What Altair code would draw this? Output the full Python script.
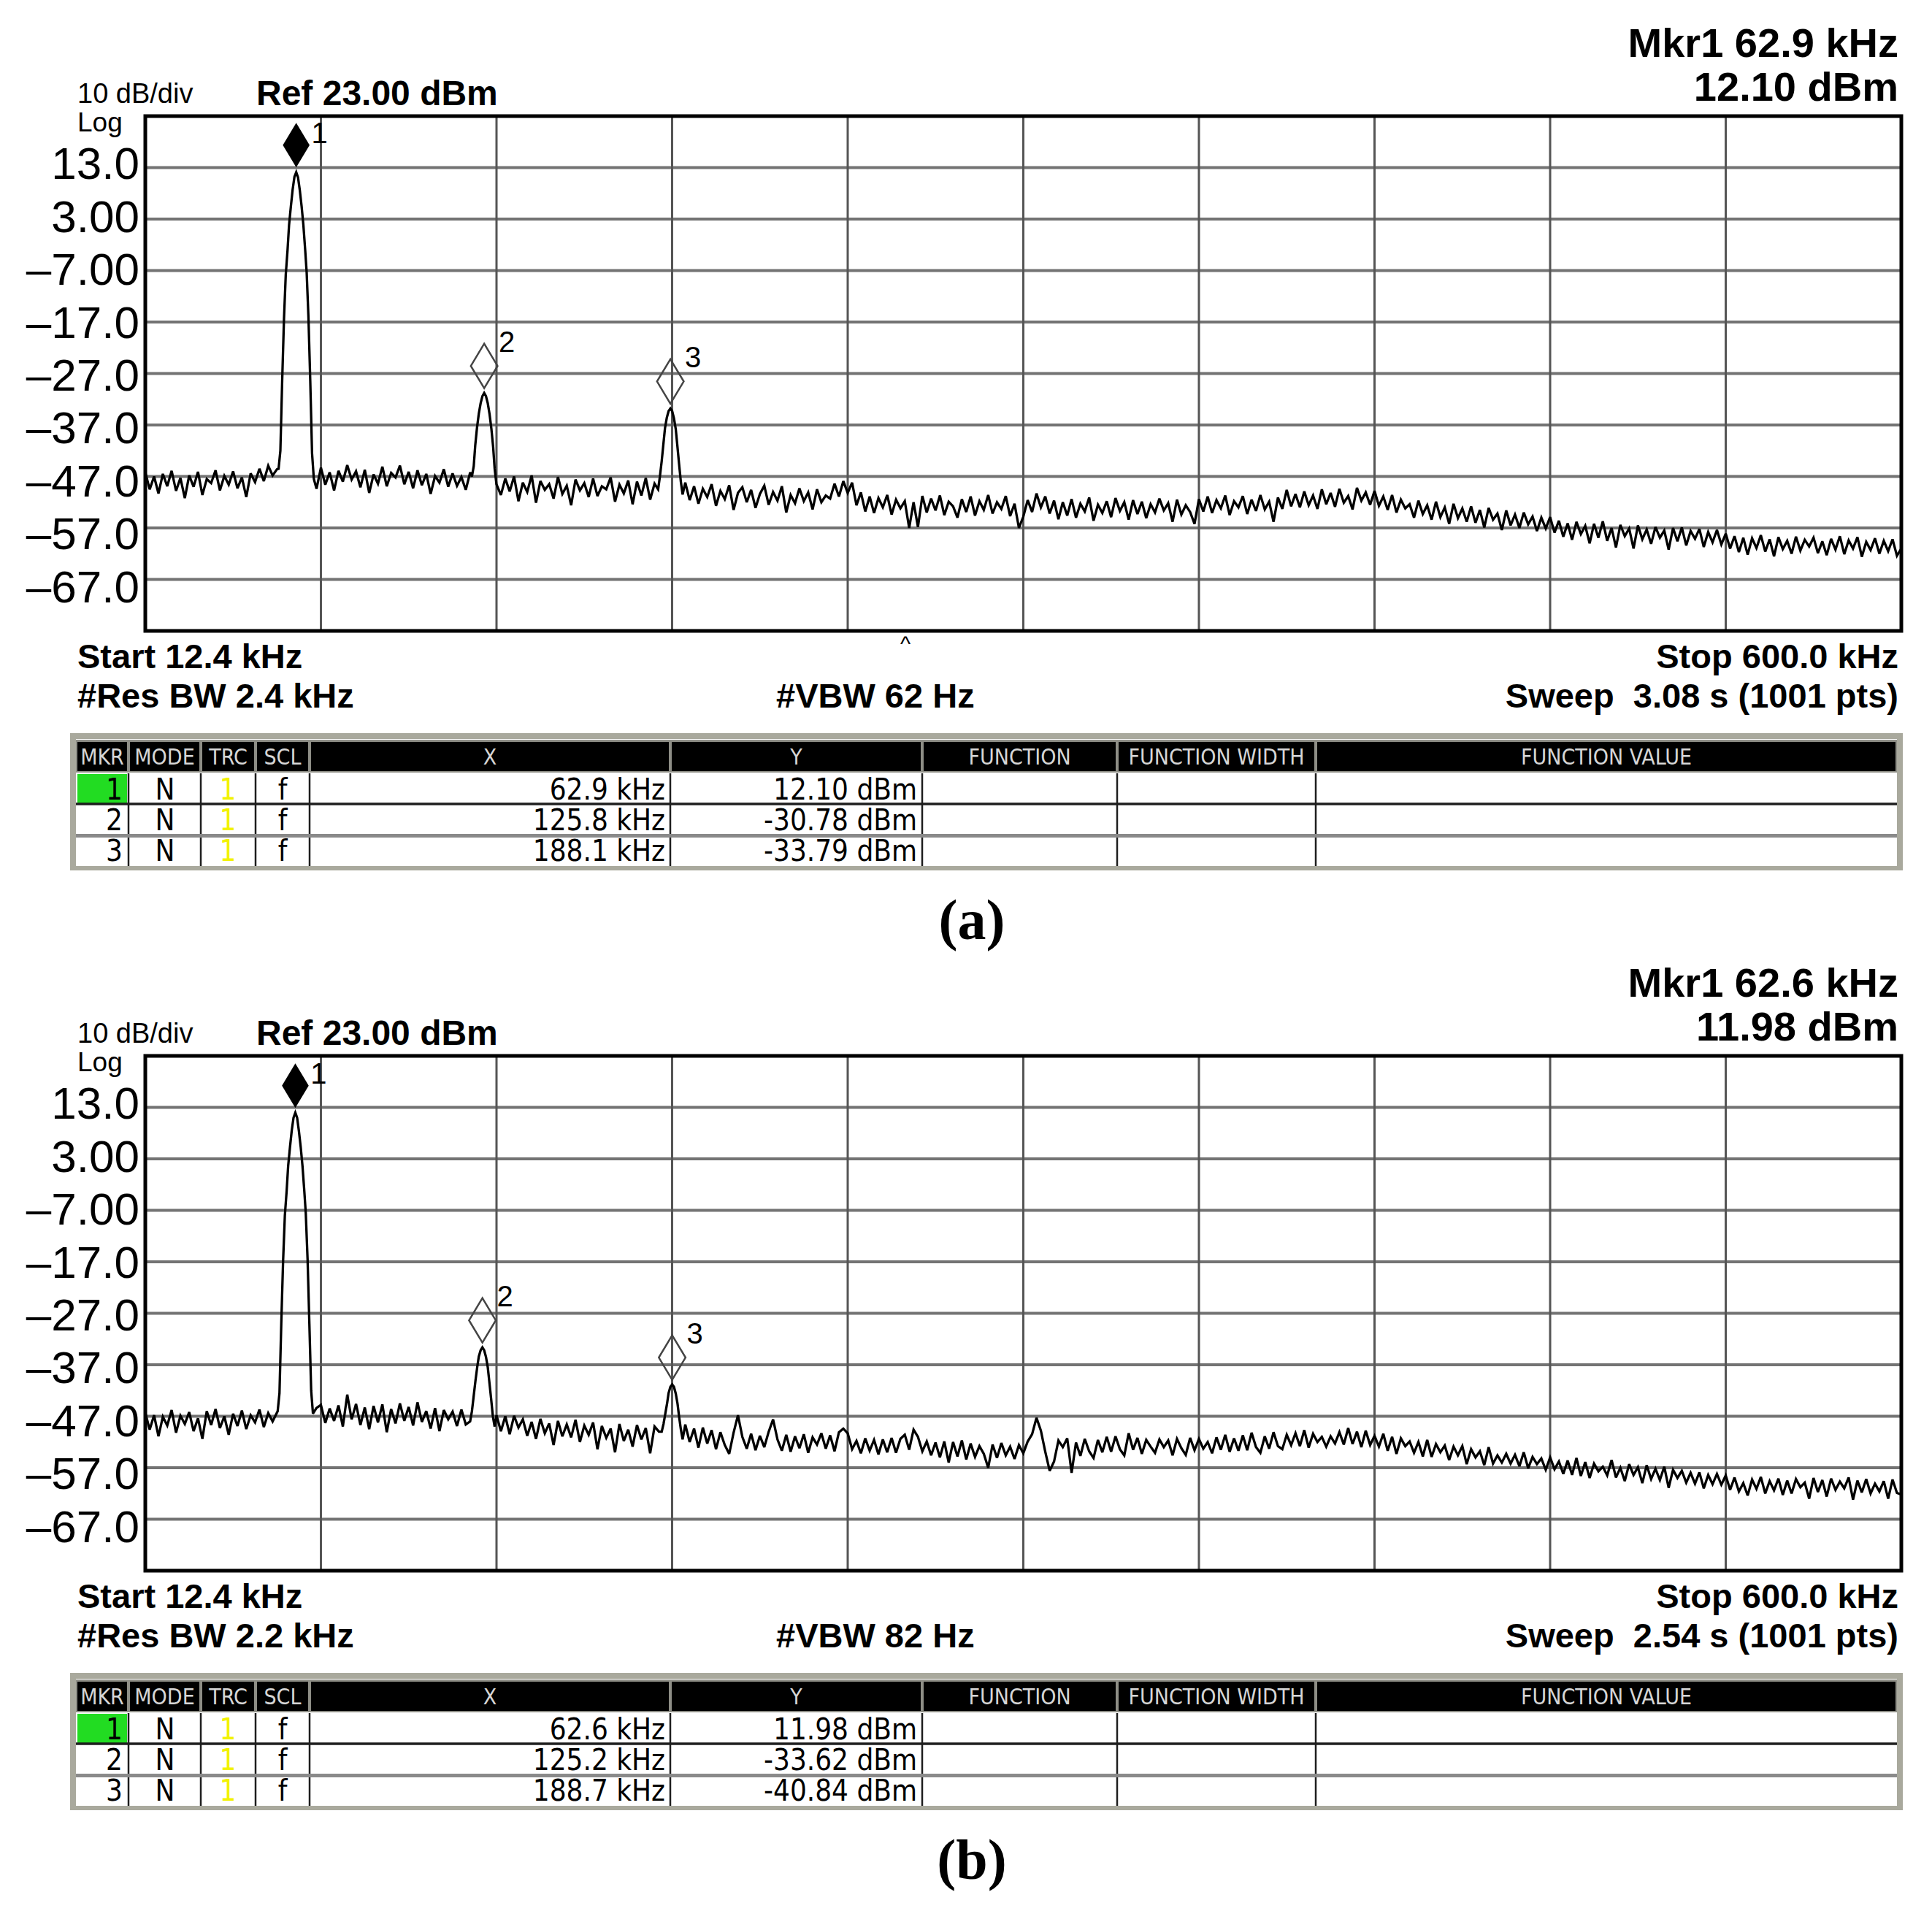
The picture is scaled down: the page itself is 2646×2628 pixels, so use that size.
import altair as alt
import numpy as np
import pandas as pd

# ---------------------------------------------------------------- data
START_KHZ = 12.4
STOP_KHZ = 600.0
REF_DBM = 23.0
DB_PER_DIV = 10.0
N_DIV = 10
SWEEP_PTS = 1001
N_TRACE = 401  # sweep points (every ~2.5th instrument point)

Y_TICKS = [13, 3, -7, -17, -27, -37, -47, -57, -67]
Y_TICK_LABELS = ["13.0", "3.00", "\u20137.00", "\u201317.0", "\u201327.0",
                 "\u201337.0", "\u201347.0", "\u201357.0", "\u201367.0"]

TABLE_HEADERS = ["MKR", "MODE", "TRC", "SCL", "X", "Y",
                 "FUNCTION", "FUNCTION WIDTH", "FUNCTION VALUE"]
MKR_MODES = ["N", "N", "N"]
MKR_TRACES = ["1", "1", "1"]
MKR_SCALES = ["f", "f", "f"]

# panel (a)
MKR_F_A = [62.9, 125.8, 188.1]
MKR_DB_A = [12.10, -30.78, -33.79]
RBW_A, VBW_A, SWEEP_A = "2.4 kHz", "62 Hz", "3.08 s"
# panel (b)
MKR_F_B = [62.6, 125.2, 188.7]
MKR_DB_B = [11.98, -33.62, -40.84]
RBW_B, VBW_B, SWEEP_B = "2.2 kHz", "82 Hz", "2.54 s"

NOISE_A = [
    # 12.4 - 71.2 kHz
    -46.2, -49.5, -47.0, -50.3, -46.5, -48.9, -45.9, -49.8, -47.3, -51.2,
    -46.8, -49.0, -46.1, -50.6, -47.5, -48.3, -45.8, -49.7, -46.9, -48.6,
    -46.0, -49.3, -47.2, -51.0, -46.4, -48.1, -45.5, -47.9, -44.9, -46.8,
    -45.6, -46.0, -46.0, -46.0, -46.0, -46.0, -46.0, -46.0, -46.0, -49.4,
    # 71.2 - 129.9 kHz
    -45.3, -48.6, -46.2, -49.7, -45.9, -48.0, -44.8, -47.6, -46.0, -49.1,
    -45.7, -50.2, -46.6, -48.4, -45.1, -48.9, -46.3, -47.2, -44.9, -48.5,
    -46.1, -49.3, -45.8, -48.7, -46.5, -50.4, -46.9, -48.2, -45.6, -49.0,
    -46.4, -48.8, -47.1, -49.6, -46.2, -47.0, -47.0, -47.0, -47.0, -47.0,
    # 129.9 - 188.7 kHz
    -46.9, -50.6, -47.4, -49.9, -47.0, -51.8, -48.2, -50.0, -46.8, -52.1,
    -47.9, -49.6, -48.5, -51.3, -47.1, -50.4, -48.8, -52.6, -47.6, -49.7,
    -48.3, -51.0, -47.4, -50.8, -48.9, -49.5, -47.2, -51.9, -48.6, -50.3,
    -47.8, -52.4, -48.0, -50.7, -47.3, -51.5, -48.4, -49.0, -49.0, -49.0,
    # 188.7 - 247.4 kHz
    -50.0, -50.0, -50.0, -48.2, -51.6, -48.9, -52.3, -49.4, -51.0, -48.5,
    -52.7, -49.8, -51.4, -48.7, -53.5, -50.2, -49.1, -52.0, -49.6, -53.1,
    -50.4, -48.8, -52.5, -50.0, -51.7, -48.9, -54.0, -50.6, -52.2, -49.3,
    -51.8, -50.1, -53.4, -49.5, -52.0, -50.7, -51.3, -48.4, -50.9, -47.9,
    # 247.4 - 306.2 kHz
    -50.2, -48.2, -52.6, -50.1, -53.8, -50.9, -54.1, -51.2, -53.0, -50.6,
    -54.4, -51.5, -53.2, -51.8, -57.0, -52.0, -56.8, -50.8, -54.0, -51.3,
    -53.6, -50.7, -54.5, -51.9, -52.8, -55.0, -51.4, -53.9, -50.9, -54.6,
    -51.8, -53.5, -50.6, -54.2, -52.0, -53.3, -50.8, -54.7, -52.3, -57.0,
    # 306.2 - 364.9 kHz
    -54.8, -51.6, -53.9, -50.3, -53.0, -50.9, -54.2, -51.7, -55.3, -52.0,
    -54.6, -51.4, -55.0, -52.3, -53.8, -51.1, -55.6, -52.5, -54.1, -51.8,
    -54.9, -51.2, -53.7, -52.0, -55.4, -51.6, -54.3, -51.9, -55.1, -52.4,
    -54.0, -51.3, -53.6, -52.2, -55.8, -51.5, -54.4, -52.6, -53.9, -56.2,
    # 364.9 - 423.7 kHz
    -51.4, -53.8, -50.9, -54.1, -51.6, -53.2, -50.7, -54.5, -51.8, -53.0,
    -50.8, -54.3, -51.5, -53.7, -50.6, -53.4, -51.9, -55.8, -51.1, -53.3,
    -49.6, -52.8, -50.4, -53.0, -49.9, -52.6, -50.7, -53.3, -49.5, -52.4,
    -50.2, -52.9, -49.4, -52.1, -50.8, -53.4, -49.2, -51.7, -50.1, -52.5,
    # 423.7 - 482.5 kHz
    -49.8, -52.7, -50.9, -53.5, -50.6, -54.0, -51.5, -53.2, -52.4, -55.0,
    -51.7, -54.3, -52.6, -55.4, -51.9, -54.9, -53.0, -56.2, -52.3, -55.1,
    -53.2, -55.8, -52.8, -56.0, -53.5, -56.9, -53.1, -55.4, -54.2, -57.4,
    -53.6, -56.5, -54.4, -57.0, -54.0, -56.3, -54.8, -57.6, -55.0, -57.1,
    # 482.5 - 541.2 kHz
    -54.9, -57.9, -55.6, -58.7, -56.1, -59.3, -55.8, -58.2, -56.6, -60.0,
    -56.2, -58.9, -55.7, -59.5, -57.0, -60.8, -56.4, -58.6, -57.1, -61.0,
    -56.5, -59.2, -57.3, -60.1, -56.8, -58.9, -57.5, -61.2, -57.0, -59.6,
    -56.9, -60.4, -57.6, -59.1, -57.2, -60.7, -57.8, -59.8, -57.4, -60.2,
    # 541.2 - 600.0 kHz
    -58.1, -61.0, -58.6, -61.7, -58.9, -62.2, -59.0, -60.9, -58.4, -61.6,
    -59.2, -62.5, -58.8, -61.1, -59.5, -62.0, -58.7, -61.4, -59.3, -60.6,
    -58.9, -61.9, -59.6, -62.3, -59.1, -61.2, -58.6, -62.1, -59.4, -61.0,
    -58.8, -62.6, -59.7, -61.3, -59.0, -62.0, -59.5, -61.5, -59.2, -62.4,
    -61.0,
]

NOISE_B = [
    # 12.4 - 71.2 kHz
    -46.3, -49.6, -46.8, -50.9, -47.1, -48.8, -45.8, -50.2, -46.9, -48.5,
    -46.2, -49.9, -47.4, -51.4, -46.0, -48.7, -45.6, -49.3, -47.0, -50.6,
    -46.5, -48.9, -45.9, -49.5, -46.8, -48.2, -45.7, -49.1, -46.4, -48.0,
    -46.1, -46.0, -46.0, -46.0, -46.0, -46.0, -46.0, -46.0, -46.0, -45.4,
    # 71.2 - 129.9 kHz
    -44.8, -48.3, -45.5, -47.9, -44.9, -49.0, -42.8, -47.6, -44.6, -48.7,
    -45.3, -49.5, -45.0, -48.2, -44.7, -50.1, -45.6, -48.4, -44.5, -47.9,
    -45.2, -48.8, -44.3, -48.1, -46.0, -49.4, -45.4, -49.9, -45.8, -47.6,
    -46.1, -48.9, -45.7, -48.6, -46.3, -47.0, -47.0, -47.0, -47.0, -47.0,
    # 129.9 - 188.7 kHz
    -46.8, -49.9, -47.0, -50.5, -46.9, -49.2, -47.6, -50.8, -48.1, -51.4,
    -47.5, -50.3, -48.4, -52.6, -47.9, -50.9, -48.6, -51.1, -47.7, -52.0,
    -48.8, -50.6, -48.2, -53.4, -48.9, -51.2, -49.4, -54.0, -48.5, -51.8,
    -49.6, -52.9, -48.7, -51.5, -49.3, -54.2, -49.0, -50.0, -50.0, -50.0,
    # 188.7 - 247.4 kHz
    -50.0, -50.0, -50.0, -48.6, -52.0, -49.4, -53.1, -49.2, -52.3, -49.7,
    -53.4, -50.1, -52.6, -54.3, -50.2, -46.8, -51.0, -53.3, -50.4, -53.6,
    -50.8, -53.0, -50.0, -47.6, -51.5, -53.7, -50.6, -53.9, -50.9, -53.2,
    -50.5, -54.1, -51.1, -52.5, -50.3, -53.3, -50.7, -53.8, -50.1, -49.4,
    # 247.4 - 306.2 kHz
    -50.3, -53.4, -51.8, -54.2, -51.3, -53.7, -51.6, -54.4, -51.5, -54.0,
    -51.2, -54.1, -51.4, -50.6, -53.5, -49.6, -51.0, -53.8, -51.9, -54.6,
    -52.1, -55.0, -51.9, -56.0, -52.0, -54.8, -51.7, -55.4, -52.3, -54.9,
    -52.8, -54.3, -57.0, -52.5, -55.1, -52.2, -54.6, -52.9, -55.3, -52.6,
    # 306.2 - 364.9 kHz
    -54.2, -51.9, -50.5, -47.3, -49.8, -53.9, -57.6, -55.8, -51.7, -53.0,
    -51.3, -58.0, -52.1, -54.7, -51.4, -53.8, -55.1, -51.6, -54.0, -51.0,
    -53.9, -50.9, -53.4, -54.6, -50.3, -53.5, -51.2, -54.3, -51.6, -52.9,
    -54.1, -51.5, -53.0, -51.7, -54.6, -51.4, -53.2, -54.5, -51.2, -53.6,
    # 364.9 - 423.7 kHz
    -51.4, -53.3, -52.0, -54.2, -51.1, -53.5, -50.6, -53.9, -51.3, -53.7,
    -50.7, -53.6, -50.2, -53.0, -54.1, -50.9, -53.3, -50.1, -52.8, -53.4,
    -50.6, -52.6, -50.3, -52.8, -49.7, -53.1, -50.4, -52.0, -51.0, -52.9,
    -50.9, -52.3, -50.1, -52.5, -49.3, -52.4, -50.0, -53.0, -49.8, -52.6,
    # 423.7 - 482.5 kHz
    -50.8, -52.9, -50.4, -53.7, -51.0, -54.3, -51.3, -52.8, -51.9, -54.1,
    -52.0, -54.8, -51.6, -54.9, -52.4, -54.0, -52.7, -55.5, -52.9, -54.6,
    -52.8, -56.3, -53.4, -55.0, -53.8, -56.5, -53.0, -56.2, -54.6, -56.0,
    -54.3, -56.2, -54.5, -56.7, -54.0, -57.1, -54.9, -56.3, -55.2, -57.4,
    # 482.5 - 541.2 kHz
    -55.0, -57.3, -55.8, -58.2, -55.6, -58.4, -55.1, -58.6, -55.9, -59.0,
    -56.2, -57.7, -56.8, -58.5, -55.5, -58.9, -57.0, -59.6, -56.3, -58.4,
    -56.9, -60.0, -56.5, -59.2, -57.2, -59.4, -56.8, -60.9, -57.4, -59.0,
    -57.6, -59.9, -58.0, -60.1, -57.9, -61.0, -58.4, -60.2, -58.2, -60.3,
    # 541.2 - 600.0 kHz
    -58.5, -61.3, -58.9, -61.6, -60.0, -62.4, -59.3, -61.1, -58.8, -62.0,
    -59.6, -61.4, -59.1, -62.3, -59.5, -62.0, -59.2, -60.8, -59.9, -63.0,
    -59.0, -61.7, -59.4, -62.6, -59.1, -61.3, -59.7, -61.0, -58.9, -63.2,
    -59.5, -61.8, -59.2, -62.0, -60.1, -61.6, -59.6, -63.0, -59.3, -61.9,
    -62.2,
]

# finely sampled signal peaks (frequency kHz, level dBm)
PEAK1_A_F = [57.0, 57.6, 58.2, 58.8, 59.4, 60.0, 60.5, 61.1, 61.7, 62.3, 62.9,
             63.5, 64.1, 64.7, 65.3, 65.9, 66.4, 67.0, 67.6, 68.2, 68.8]
PEAK1_A_DB = [-45.5, -42.0, -28.5, -16.5, -7.8, -3.0, 1.8, 5.4, 8.7, 11.2, 12.1,
              11.1, 8.6, 5.5, 1.8, -3.0, -7.4, -16.2, -28.5, -42.5, -47.5]
PEAK2_A_F = [121.7, 122.3, 122.8, 123.4, 124.0, 124.6, 125.2, 125.8,
             126.4, 127.0, 127.6, 128.2, 128.8, 129.3, 129.9]
PEAK2_A_DB = [-47.0, -45.0, -41.0, -37.5, -34.8, -32.8, -31.4, -30.78,
              -31.4, -32.8, -34.9, -37.7, -41.3, -45.5, -48.5]
PEAK3_A_F = [184.0, 184.6, 185.2, 185.8, 186.3, 186.9, 187.5, 188.1,
             188.7, 189.3, 189.9, 190.4, 191.0, 191.6, 192.2]
PEAK3_A_DB = [-49.5, -47.0, -44.0, -40.5, -37.6, -35.6, -34.3, -33.79,
              -34.3, -35.7, -37.8, -40.8, -44.5, -48.0, -50.5]

PEAK1_B_F = [56.7, 57.3, 57.9, 58.5, 59.1, 59.7, 60.2, 60.8, 61.4, 62.0, 62.6,
             63.2, 63.8, 64.4, 65.0, 65.6, 66.1, 66.7, 67.3, 67.9, 68.5]
PEAK1_B_DB = [-46.0, -42.5, -29.0, -17.0, -8.0, -3.2, 1.6, 5.2, 8.5, 11.0, 11.98,
              11.0, 8.4, 5.3, 1.6, -3.2, -7.6, -16.5, -29.0, -42.0, -46.5]
PEAK2_B_F = [121.1, 121.7, 122.3, 122.9, 123.5, 124.0, 124.6, 125.2,
             125.8, 126.4, 127.0, 127.5, 128.1, 128.7, 129.3]
PEAK2_B_DB = [-48.0, -46.0, -43.0, -40.0, -37.3, -35.4, -34.2, -33.62,
              -34.2, -35.5, -37.5, -40.2, -43.5, -47.0, -49.0]
PEAK3_B_F = [185.2, 185.8, 186.4, 187.0, 187.5, 188.1, 188.7,
             189.3, 189.9, 190.5, 191.0, 191.6, 192.2]
PEAK3_B_DB = [-50.0, -48.5, -46.5, -44.5, -42.5, -41.3, -40.84,
              -41.3, -42.6, -44.6, -47.0, -49.5, -51.5]

# ---------------------------------------------------------------- layout (reference pixels)
MARGIN = 8
PLOT_L, PLOT_R, PLOT_T, PLOT_B = 199, 2604, 159, 864
LABEL_T, LABEL_B = 152, 876   # the instrument's tick-label column is drawn slightly taller
PANEL_OFF = 1287
SANS = "Liberation Sans, Arial, Helvetica, sans-serif"
NARROW = "Liberation Sans Narrow, Arial Narrow, DejaVu Sans Condensed, Liberation Sans, sans-serif"
SERIF = "Liberation Serif, Times New Roman, serif"
DIAMOND = "M0,-1L0.6,0L0,1L-0.6,0Z"
COL_EDGES = [104, 176, 275, 350, 424, 918, 1263, 1530, 1802, 2598]
ONE = alt.Data(values=[{}])


def P(v):
    return v - MARGIN


def label(s, x, y, size, weight="normal", align="left", font=SANS, color="black"):
    return alt.Chart(ONE).mark_text(
        text=s, fontSize=size, fontWeight=weight, align=align,
        baseline="alphabetic", font=font, color=color
    ).encode(x=alt.value(P(x)), y=alt.value(P(y)))


def trace_frame(noise, peaks):
    assert len(noise) == N_TRACE, len(noise)
    f = np.linspace(START_KHZ, STOP_KHZ, N_TRACE)
    lv = np.asarray(noise, dtype=float)
    keep = np.ones(N_TRACE, dtype=bool)
    pf, pl = [], []
    for fs, ls in peaks:
        assert len(fs) == len(ls)
        keep &= ~((f >= fs[0] - 0.3) & (f <= fs[-1] + 0.3))
        pf += fs
        pl += ls
    ff = np.concatenate([f[keep], pf])
    ll = np.concatenate([lv[keep], pl])
    o = np.argsort(ff)
    return pd.DataFrame({"f": ff[o], "dbm": ll[o]})


def spectrum(off, noise, peaks, mkr_f, mkr_db):
    bottom_db = REF_DBM - N_DIV * DB_PER_DIV
    xsc = alt.Scale(domain=[START_KHZ, STOP_KHZ], range=[P(PLOT_L), P(PLOT_R)], nice=False, zero=False)
    ysc = alt.Scale(domain=[bottom_db, REF_DBM], range=[P(PLOT_B + off), P(PLOT_T + off)],
                    nice=False, zero=False)

    def X(field):
        return alt.X(field, type="quantitative", scale=xsc, axis=None)

    def Y(field):
        return alt.Y(field, type="quantitative", scale=ysc, axis=None)

    xl = alt.XDatum(START_KHZ, type="quantitative", scale=xsc, axis=None)
    yt = alt.YDatum(REF_DBM, type="quantitative", scale=ysc, axis=None)

    step = (STOP_KHZ - START_KHZ) / N_DIV
    vgrid = alt.Chart(pd.DataFrame({"f": [START_KHZ + k * step for k in range(1, N_DIV)]})).mark_rule(
        color="#555555", strokeWidth=3).encode(x=X("f"), y=yt, y2=alt.Y2Datum(bottom_db))
    hgrid = alt.Chart(pd.DataFrame({"v": Y_TICKS})).mark_rule(
        color="#737373", strokeWidth=4).encode(y=Y("v"), x=xl, x2=alt.X2Datum(STOP_KHZ))
    line = alt.Chart(trace_frame(noise, peaks)).mark_line(
        color="black", strokeWidth=3.3, strokeJoin="miter", strokeMiterLimit=3
    ).encode(x=X("f"), y=Y("dbm"))
    frame = alt.Chart(ONE).mark_rect(fill="white", fillOpacity=0, stroke="black", strokeWidth=5).encode(
        x=xl, x2=alt.X2Datum(STOP_KHZ), y=yt, y2=alt.Y2Datum(bottom_db))

    mk = pd.DataFrame({"f": mkr_f, "dbm": mkr_db,
                       "num": [str(i + 1) for i in range(len(mkr_f))]})
    m1 = alt.Chart(mk.iloc[:1]).mark_point(
        shape=DIAMOND, size=3721, filled=True, color="black", opacity=1, yOffset=-37
    ).encode(x=X("f"), y=Y("dbm"))
    m23 = alt.Chart(mk.iloc[1:]).mark_point(
        shape=DIAMOND, size=3721, filled=False, color="#444444", strokeWidth=2.5, opacity=1, yOffset=-37
    ).encode(x=X("f"), y=Y("dbm"))
    n1 = alt.Chart(mk.iloc[:1]).mark_text(
        fontSize=40, font=SANS, dx=32, dy=-52, align="center", baseline="middle"
    ).encode(x=X("f"), y=Y("dbm"), text="num:N")
    n23 = alt.Chart(mk.iloc[1:]).mark_text(
        fontSize=40, font=SANS, dx=31, dy=-68, align="center", baseline="middle"
    ).encode(x=X("f"), y=Y("dbm"), text="num:N")
    return alt.layer(hgrid, vgrid, line, frame, m1, m23, n1, n23)


def tick_labels(off):
    bottom_db = REF_DBM - N_DIV * DB_PER_DIV
    ysc = alt.Scale(domain=[bottom_db, REF_DBM], range=[P(LABEL_B + off), P(LABEL_T + off)],
                    nice=False, zero=False)
    return alt.Chart(pd.DataFrame({"v": Y_TICKS, "t": Y_TICK_LABELS})).mark_text(
        fontSize=62, font=SANS, align="right", baseline="middle", dy=2
    ).encode(x=alt.value(P(PLOT_L - 8)),
             y=alt.Y("v:Q", scale=ysc, axis=None), text="t:N")


def table(off, mkr_f, mkr_db):
    y_hdr0, y_hdr1 = 1016 + off, 1056 + off
    rows = [(1059 + off, 1101 + off), (1102 + off, 1144 + off), (1145 + off, 1186 + off)]
    e = COL_EDGES
    rects = [
        (96, 1004 + off, 2606, 1192 + off, "#a9a99d"),
        (104, 1012 + off, 2598, 1186 + off, "#ffffff"),
        (104, 1013 + off, 2598, 1058 + off, "#8e8e86"),
    ]
    for i in range(len(e) - 1):
        rects.append((e[i] + 2, y_hdr0, e[i + 1] - 2, y_hdr1, "#000000"))
    rects.append((e[0] + 2, rows[0][0] + 1, e[1] - 2, rows[0][1] - 1, "#22dc22"))
    rdf = pd.DataFrame([{"x0": P(a), "y0": P(b), "x1": P(c), "y1": P(d), "fill": f}
                        for a, b, c, d, f in rects])
    rect_layer = alt.Chart(rdf).mark_rect().encode(
        x=alt.X("x0:Q", scale=None, axis=None), x2="x1:Q",
        y=alt.Y("y0:Q", scale=None, axis=None), y2="y1:Q",
        color=alt.Color("fill:N", scale=None))

    rules = []
    for x in e[1:-1]:
        rules.append((x, rows[0][0], x, rows[2][1], "#1e1e1e", 2.5))
    rules.append((e[0], rows[0][1], e[-1], rows[0][1], "#1e1e1e", 3.5))
    rules.append((e[0], rows[1][1] + 0.5, e[-1], rows[1][1] + 0.5, "#8a8a8a", 5))
    ldf = pd.DataFrame([{"x0": P(a), "y0": P(b), "x1": P(c), "y1": P(d), "c": col, "w": w}
                        for a, b, c, d, col, w in rules])
    rule_layer = alt.Chart(ldf).mark_rule().encode(
        x=alt.X("x0:Q", scale=None, axis=None), x2="x1:Q",
        y=alt.Y("y0:Q", scale=None, axis=None), y2="y1:Q",
        color=alt.Color("c:N", scale=None),
        strokeWidth=alt.StrokeWidth("w:Q", scale=None))

    centers = [(e[i] + e[i + 1]) / 2 for i in range(len(e) - 1)]
    hdf = pd.DataFrame({"x": [P(c) for c in centers], "y": P(1047 + off), "t": TABLE_HEADERS})
    hdr_layer = alt.Chart(hdf).mark_text(
        fontSize=30, font=NARROW, color="#d6d6d6", align="center", baseline="alphabetic"
    ).encode(x=alt.X("x:Q", scale=None, axis=None), y=alt.Y("y:Q", scale=None, axis=None), text="t:N")

    base = [1095 + off, 1137 + off, 1179 + off]
    right_items, center_items = [], []
    for r in range(len(mkr_f)):
        yb = P(base[r])
        right_items += [
            {"x": P(168), "y": yb, "t": str(r + 1), "c": "#000000"},
            {"x": P(911), "y": yb, "t": f"{mkr_f[r]:.1f} kHz", "c": "#000000"},
            {"x": P(1256), "y": yb, "t": f"{mkr_db[r]:.2f} dBm", "c": "#000000"},
        ]
        center_items += [
            {"x": P(226), "y": yb, "t": MKR_MODES[r], "c": "#000000"},
            {"x": P(312), "y": yb, "t": MKR_TRACES[r], "c": "#f2f200"},
            {"x": P(387), "y": yb, "t": MKR_SCALES[r], "c": "#000000"},
        ]
    enc = dict(x=alt.X("x:Q", scale=None, axis=None), y=alt.Y("y:Q", scale=None, axis=None),
               text="t:N", color=alt.Color("c:N", scale=None))
    rt = alt.Chart(pd.DataFrame(right_items)).mark_text(
        fontSize=40, font=NARROW, align="right", baseline="alphabetic").encode(**enc)
    ct = alt.Chart(pd.DataFrame(center_items)).mark_text(
        fontSize=40, font=NARROW, align="center", baseline="alphabetic").encode(**enc)
    return alt.layer(rect_layer, rule_layer, hdr_layer, rt, ct)


def texts(off, mkr_f, mkr_db, rbw, vbw, sweep, caption, caret):
    out = [
        label(f"Mkr1 {mkr_f[0]:.1f} kHz", 2600, 78 + off, 56, "bold", "right"),
        label(f"{mkr_db[0]:.2f} dBm", 2600, 138 + off, 56, "bold", "right"),
        label(f"{DB_PER_DIV:.0f} dB/div", 106, 141 + off, 38),
        label("Log", 106, 180 + off, 37),
        label(f"Ref {REF_DBM:.2f} dBm", 351, 144 + off, 48, "bold"),
        label(f"Start {START_KHZ:.1f} kHz", 106, 915 + off, 47, "bold"),
        label(f"#Res BW {rbw}", 106, 969 + off, 47, "bold"),
        label(f"#VBW {vbw}", 1063, 969 + off, 47, "bold"),
        label(f"Stop {STOP_KHZ:.1f} kHz", 2600, 915 + off, 47, "bold", "right"),
        label(f"Sweep\u00a0\u00a0{sweep} ({SWEEP_PTS} pts)", 2600, 969 + off, 47, "bold", "right"),
        label(caption, 1331, 1286 + off, 78, "bold", "center", SERIF),
    ]
    if caret:
        out.append(label("^", 1240, 892 + off, 30, "normal", "center"))
    return out


layers = []
layers.append(spectrum(0, NOISE_A, [(PEAK1_A_F, PEAK1_A_DB), (PEAK2_A_F, PEAK2_A_DB),
                                    (PEAK3_A_F, PEAK3_A_DB)], MKR_F_A, MKR_DB_A))
layers.append(tick_labels(0))
layers.append(table(0, MKR_F_A, MKR_DB_A))
layers += texts(0, MKR_F_A, MKR_DB_A, RBW_A, VBW_A, SWEEP_A, "(a)", True)
layers.append(spectrum(PANEL_OFF, NOISE_B, [(PEAK1_B_F, PEAK1_B_DB), (PEAK2_B_F, PEAK2_B_DB),
                                            (PEAK3_B_F, PEAK3_B_DB)], MKR_F_B, MKR_DB_B))
layers.append(tick_labels(PANEL_OFF))
layers.append(table(PANEL_OFF, MKR_F_B, MKR_DB_B))
layers += texts(PANEL_OFF, MKR_F_B, MKR_DB_B, RBW_B, VBW_B, SWEEP_B, "(b)", False)

chart = alt.layer(*layers).resolve_scale(
    x="independent", y="independent", color="independent"
).properties(
    width=2646 - 2 * MARGIN, height=2628 - 2 * MARGIN, padding=0,
    autosize=alt.AutoSizeParams(type="none"), background="white"
).configure_view(strokeWidth=0)

chart.save("out.html", embed_options={"renderer": "svg", "actions": False})
